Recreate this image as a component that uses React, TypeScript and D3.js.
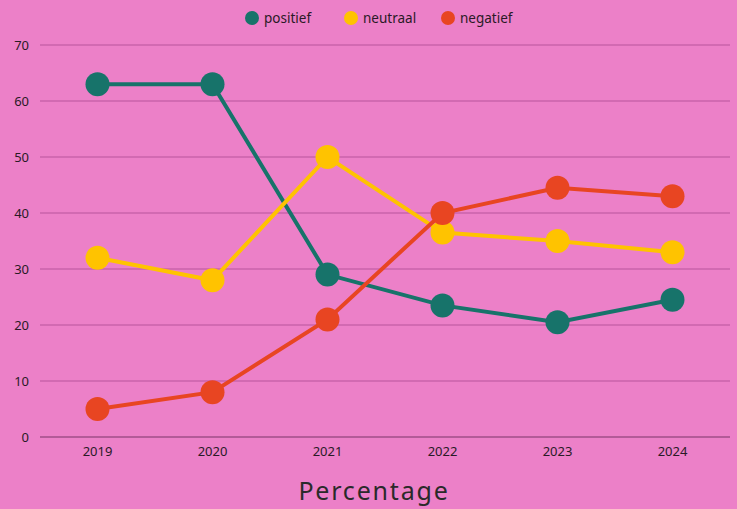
import React, { useRef, useEffect } from "react";
import * as d3 from "d3";

const width = 737;
const height = 509;
const years = ["2019", "2020", "2021", "2022", "2023", "2024"];
const positief = [63, 63, 29, 23.5, 20.5, 24.5];
const neutraal = [32, 28, 50, 36.5, 35, 33];
const negatief = [5, 8, 21, 40, 44.5, 43];
const yTicks = [0, 10, 20, 30, 40, 50, 60, 70];
const seriesNames = ["positief", "neutraal", "negatief"];
const seriesColors = ["#17736a", "#ffc300", "#e84522"];

const font = "'Noto Sans', sans-serif";

export default function App() {
    const ref = useRef<SVGSVGElement>(null);

    useEffect(() => {
        const svg = d3.select(ref.current);
        svg.selectAll("*").remove();

        const x = d3.scalePoint().domain(years).range([40, 730]).padding(0.5);
        const y = d3.scaleLinear().domain([0, 70]).range([437, 45]);

        svg.append("rect")
            .attr("width", width)
            .attr("height", height)
            .attr("fill", "#ec80c8");

        // grid lines
        svg.append("g")
            .selectAll("line")
            .data(yTicks.filter((t) => t > 0))
            .join("line")
            .attr("x1", 40)
            .attr("x2", 730)
            .attr("y1", (d) => y(d))
            .attr("y2", (d) => y(d))
            .attr("stroke", "#b8559c")
            .attr("stroke-width", 1);

        // baseline
        svg.append("line")
            .attr("x1", 40)
            .attr("x2", 730)
            .attr("y1", y(0))
            .attr("y2", y(0))
            .attr("stroke", "#7a3468")
            .attr("stroke-width", 1);

        svg.append("g")
            .selectAll("text")
            .data(yTicks)
            .join("text")
            .attr("x", 29)
            .attr("y", (d) => y(d))
            .attr("dy", "0.35em")
            .attr("text-anchor", "end")
            .attr("fill", "#2a1a26")
            .style("font", `13px ${font}`)
            .text((d) => d);

        svg.append("g")
            .selectAll("text")
            .data(years)
            .join("text")
            .attr("x", (d) => x(d)!)
            .attr("y", 451)
            .attr("dy", "0.35em")
            .attr("text-anchor", "middle")
            .attr("fill", "#2a1a26")
            .style("font", `13px ${font}`)
            .text((d) => d);

        svg.append("text")
            .attr("x", 374)
            .attr("y", 500)
            .attr("text-anchor", "middle")
            .attr("fill", "#2a2a2a")
            .attr("letter-spacing", "1.8px")
            .style("font", `25px ${font}`)
            .text("Percentage");

        const line = d3
            .line<number>()
            .x((_d, i) => x(years[i])!)
            .y((d) => y(d));

        [positief, neutraal, negatief].forEach((vals, si) => {
            const g = svg.append("g");
            g.append("path")
                .datum(vals)
                .attr("d", line)
                .attr("fill", "none")
                .attr("stroke", seriesColors[si])
                .attr("stroke-width", 4);
            g.selectAll("circle")
                .data(vals)
                .join("circle")
                .attr("cx", (_d, i) => x(years[i])!)
                .attr("cy", (d) => y(d))
                .attr("r", 12)
                .attr("fill", seriesColors[si]);
        });

        // legend
        const legendX = [252, 351, 448];
        const legend = svg.append("g");
        seriesNames.forEach((name, i) => {
            legend.append("circle")
                .attr("cx", legendX[i])
                .attr("cy", 18)
                .attr("r", 7)
                .attr("fill", seriesColors[i]);
            legend.append("text")
                .attr("x", legendX[i] + 12)
                .attr("y", 18)
                .attr("dy", "0.35em")
                .attr("fill", "#2a1a26")
                .style("font", `13.5px ${font}`)
                .text(name);
        });
    }, []);

    return (
        <div style={{ position: "fixed", left: 0, top: 0 }}>
            <svg ref={ref} width={width} height={height} style={{ display: "block" }} />
        </div>
    );
}
